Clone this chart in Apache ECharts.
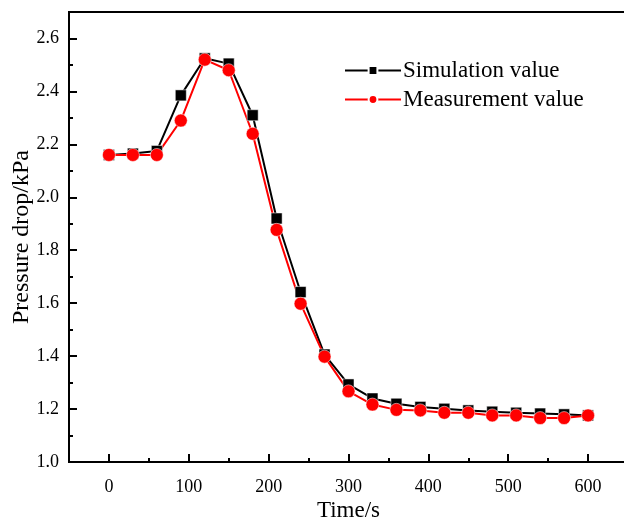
<!DOCTYPE html>
<html>
<head>
<meta charset="utf-8">
<script src="https://cdn.jsdelivr.net/npm/echarts@6/dist/echarts.min.js"></script>
<style>html,body{margin:0;padding:0;background:#fff;}#c{width:624px;height:522px;}</style>
</head>
<body>
<div id="c"></div>
<script>
const times = [0,30,60,90,120,150,180,210,240,270,300,330,360,390,420,450,480,510,540,570,600];
const simulation = [2.16,2.165,2.175,2.385,2.525,2.505,2.31,1.92,1.642,1.406,1.293,1.24,1.22,1.208,1.201,1.195,1.19,1.186,1.183,1.18,1.176];
const measurement = [2.16,2.16,2.16,2.29,2.52,2.48,2.24,1.877,1.598,1.398,1.267,1.217,1.197,1.195,1.186,1.186,1.176,1.176,1.166,1.166,1.176];
const xMajorTicks = [0,100,200,300,400,500,600];
const xMinorTicks = [50,150,250,350,450,550];
const yMajorTicks = [1.0,1.2,1.4,1.6,1.8,2.0,2.2,2.4,2.6];
const yMinorTicks = [1.1,1.3,1.5,1.7,1.9,2.1,2.3,2.5];
const seriesNames = ['Simulation value','Measurement value'];

const font = 'Liberation Serif';
const chart = echarts.init(document.getElementById('c'), null, {renderer:'canvas'});
chart.setOption({
  backgroundColor:'#ffffff',
  animation:false,
  grid:{left:69,width:559,top:12,bottom:60,containLabel:false,outerBoundsMode:'none',show:true,borderColor:'#000',borderWidth:2,backgroundColor:'transparent'},
  legend:{
    orient:'vertical', left:339, top:54, itemWidth:56, itemHeight:11, itemGap:6,
    textStyle:{fontFamily:font,fontSize:23,color:'#000',padding:[0,0,0,-3]},
    data:seriesNames
  },
  xAxis:[{
    type:'value', min:-50, max:650,
    name:'Time/s', nameLocation:'middle', nameGap:37, nameMoveOverlap:false,
    nameTextStyle:{fontFamily:font,fontSize:23,color:'#000'},
    axisLine:{show:true,onZero:false,lineStyle:{color:'#000',width:2}},
    axisTick:{show:true,inside:true,length:8,lineStyle:{color:'#000',width:2},customValues:xMajorTicks},
    axisLabel:{fontFamily:font,fontSize:18,color:'#000',margin:16,customValues:xMajorTicks},
    splitLine:{show:false}
  },{
    type:'value', min:-50, max:650, position:'bottom',
    axisLine:{show:false,onZero:false},
    axisTick:{show:true,inside:true,length:4,lineStyle:{color:'#000',width:2},customValues:xMinorTicks},
    axisLabel:{show:false},
    splitLine:{show:false}
  }],
  yAxis:[{
    type:'value', min:1.0, max:2.7,
    name:'Pressure drop/kPa', nameLocation:'middle', nameGap:35, nameMoveOverlap:false,
    nameTextStyle:{fontFamily:font,fontSize:24,color:'#000'},
    axisLine:{show:true,onZero:false,lineStyle:{color:'#000',width:2}},
    axisTick:{show:true,inside:true,length:8,lineStyle:{color:'#000',width:2},customValues:yMajorTicks},
    axisLabel:{fontFamily:font,fontSize:18,color:'#000',margin:10,customValues:yMajorTicks,formatter:v=>v.toFixed(1)},
    splitLine:{show:false}
  },{
    type:'value', min:1.0, max:2.7, position:'left',
    axisLine:{show:false,onZero:false},
    axisTick:{show:true,inside:true,length:4,lineStyle:{color:'#000',width:2},customValues:yMinorTicks},
    axisLabel:{show:false},
    splitLine:{show:false}
  }],
  series:[{
    name:seriesNames[0], type:'line',
    data:times.map((t,i)=>[t,simulation[i]]),
    symbol:'rect', symbolSize:11,
    lineStyle:{color:'#000',width:2},
    itemStyle:{color:'#000',borderColor:'#fff',borderWidth:0.5}
  },{
    name:seriesNames[1], type:'line',
    data:times.map((t,i)=>[t,measurement[i]]),
    symbol:'circle', symbolSize:13,
    lineStyle:{color:'#ff0000',width:2},
    itemStyle:{color:'#ff0000',borderColor:'#fff',borderWidth:0.5}
  }]
});
</script>
</body>
</html>
